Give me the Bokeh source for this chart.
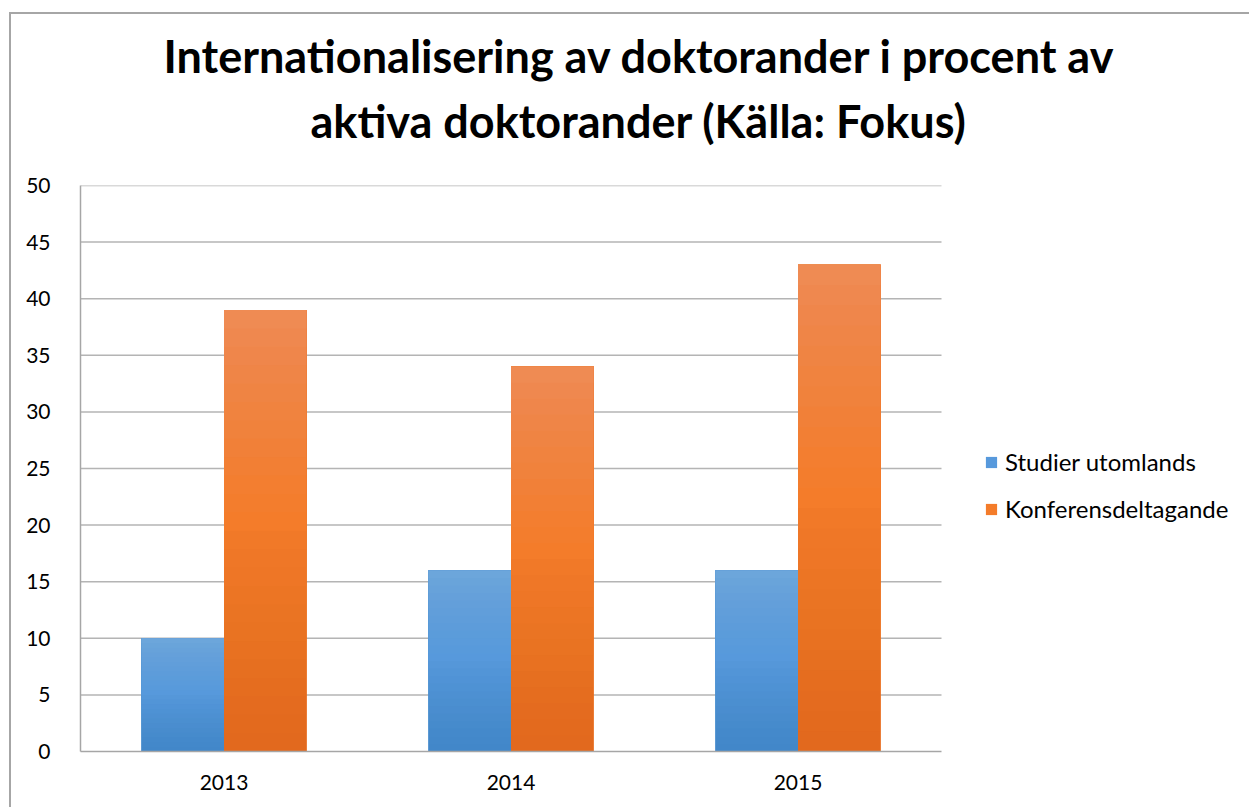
from bokeh.plotting import figure
from bokeh.models import (ColumnDataSource, Range1d, Legend, LegendItem, Title,
                          FixedTicker)
from bokeh.embed import file_html
from bokeh.resources import INLINE

years = ["2013", "2014", "2015"]
studier = [10, 16, 16]
konferens = [39, 34, 43]
series_names = ["Studier utomlands", "Konferensdeltagande"]
title_lines = ["Internationalisering av doktorander i procent av",
               "aktiva doktorander (Källa: Fokus)"]
y_ticks = list(range(0, 51, 5))

FONT = "Lato"

# layout (canvas pixels)
W, H = 1240, 795
LEFT, TOP, BOTTOM = 69, 171, 58
CAT_PX = 287  # width of one year category in pixels
n = len(years)

p = figure(width=W, height=H, x_range=Range1d(0, (W - LEFT) / CAT_PX), y_range=Range1d(0, 50),
           output_backend="svg", toolbar_location=None,
           min_border_left=LEFT, min_border_right=0, min_border_top=TOP, min_border_bottom=BOTTOM)
p.margin = (12, 0, 0, 9)
p.styles = {"border-left": "2px solid #a6a6a6", "border-top": "2px solid #a6a6a6"}
p.outline_line_color = None
p.background_fill_color = "white"
p.border_fill_color = "white"

p.xgrid.grid_line_color = None
p.ygrid.grid_line_color = None

xs = [i + 0.5 for i in range(n)]
grid_src = ColumnDataSource(dict(y=[t for t in y_ticks if t > 0]))
p.segment(x0=0, x1=n, y0="y", y1="y", source=grid_src, line_color="#b4b4b4", line_width=1.5)

p.yaxis.ticker = FixedTicker(ticks=y_ticks)
p.xaxis.ticker = FixedTicker(ticks=xs)
p.xaxis.major_label_overrides = {x: y for x, y in zip(xs, years)}
p.xaxis.bounds = (0, n)

for ax in (p.xaxis[0], p.yaxis[0]):
    ax.axis_line_color = "#a6a6a6"
    ax.axis_line_width = 1.5
    ax.major_tick_line_color = None
    ax.minor_tick_line_color = None
    ax.major_label_text_font = FONT
    ax.major_label_text_font_size = "21px"
    ax.major_label_text_color = "#000000"
p.yaxis.major_label_standoff = 24
p.xaxis.major_label_standoff = 17

BW = 0.288
HL = 12  # layers per half of the gradient
series = [
    (studier, -0.144, "#4287c9", "#5799dc", "#70a7dc"),
    (konferens, 0.144, "#e2691e", "#f47c2a", "#f08d58"),
]
legend_renderers = []
for vals, off, c_bot, c_mid, c_top in series:
    bx = [x + off for x in xs]
    src = ColumnDataSource(dict(x=bx, top=vals))
    r = p.vbar(x="x", top="top", width=BW, source=src, fill_color=c_mid, line_color=None)
    legend_renderers.append(r)
    p.vbar(x="x", top="top", width=BW, source=src, fill_color=c_bot, line_color=None)
    for seg, color in ((0, c_mid), (1, c_top)):
        for m in range(1, HL + 1):
            frac = (seg * HL + m) / (2 * HL)
            s = ColumnDataSource(dict(x=bx, top=vals, bottom=[v * frac for v in vals]))
            p.vbar(x="x", top="top", bottom="bottom", width=BW, source=s,
                   fill_color=color, fill_alpha=1.0 / (HL - m + 1), line_color=None)

legend = Legend(items=[LegendItem(label=series_names[0], renderers=[legend_renderers[0]]),
                       LegendItem(label=series_names[1], renderers=[legend_renderers[1]])],
                location=(904, 228), orientation="vertical")
legend.border_line_color = None
legend.background_fill_alpha = 0
legend.padding = 0
legend.margin = 0
legend.spacing = 18
legend.glyph_width = 14
legend.glyph_height = 14
legend.label_height = 29
legend.label_standoff = 7
legend.label_text_font = FONT
legend.label_text_font_size = "24px"
legend.label_text_color = "#000000"
p.add_layout(legend, "center")

# title lines (the one closest to the frame is added first)
t2 = Title(text=title_lines[1], align="left", offset=230, standoff=76,
           text_font=FONT, text_font_style="bold", text_font_size="45px", text_color="#000000")
t1 = Title(text=title_lines[0], align="left", offset=83, standoff=-59,
           text_font=FONT, text_font_style="bold", text_font_size="45px", text_color="#000000")
p.add_layout(t2, "above")
p.add_layout(t1, "above")

open("out.html", "w").write(file_html(p, INLINE))
